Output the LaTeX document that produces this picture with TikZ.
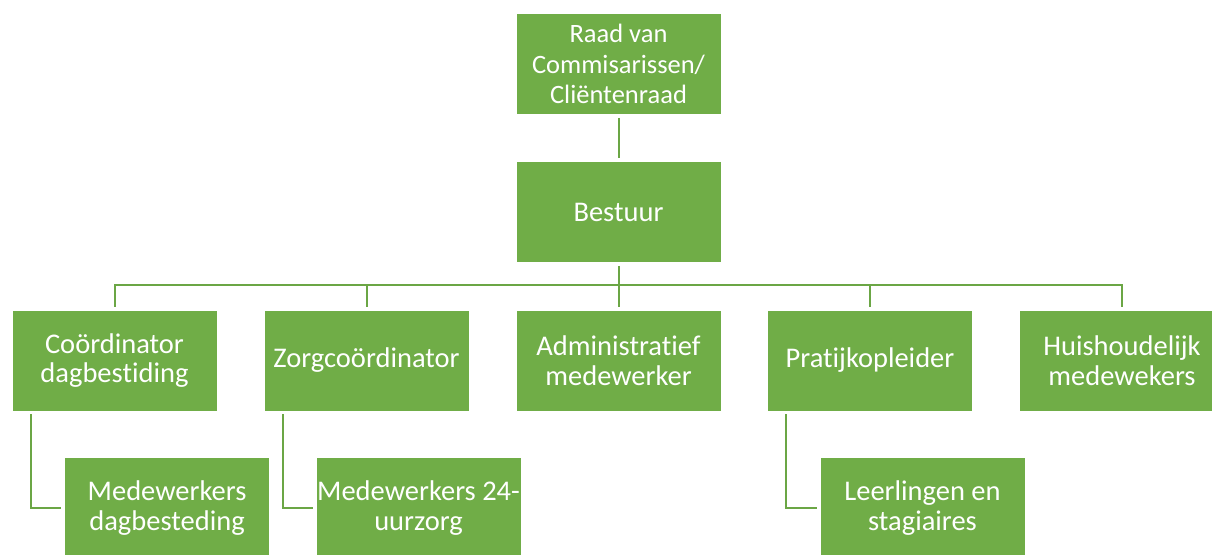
\documentclass[tikz,border=0pt]{standalone}
\usepackage{fontspec}
\setmainfont[Ligatures=CommonOff]{Carlito}
\definecolor{boxgreen}{HTML}{70AD47}
\definecolor{linegreen}{HTML}{6BA645}
\begin{document}
\begin{tikzpicture}[x=1pt,y=-1pt,
  orgbox/.style={rectangle, fill=boxgreen, draw=white, line width=0.6pt,
    minimum width=205pt, minimum height=101pt, inner sep=0pt,
    text=white, align=center, font=\fontsize{28.5}{29.5}\selectfont},
  conn/.style={draw=linegreen, line width=2pt}]
\useasboundingbox (0,0) rectangle (1212,554);
\node[orgbox, font=\fontsize{26.5}{30.5}\selectfont] (raad) at (618.5,64) {Raad van\\Commisarissen/\\Cliëntenraad};
\node[orgbox] (bestuur) at (618.5,212) {Bestuur};
\node[orgbox] (c1) at (114.5,360.5) {Coördinator\\dagbestiding};
\node[orgbox] (c2) at (366.5,360.5) {Zorgcoördinator};
\node[orgbox] (c3) at (618.5,360.5) {Administratief\\medewerker};
\node[orgbox] (c4) at (870,360.5) {Pratijkopleider};
\node[orgbox] (c5) at (1122,360.5) {Huishoudelijk\\medewekers};
\node[orgbox] (m1) at (167,508) {Medewerkers\\dagbesteding};
\node[orgbox] (m2) at (418.5,508) {Medewerkers 24-\\uurzorg};
\node[orgbox] (m4) at (922.5,508) {Leerlingen en\\stagiaires};
\draw[conn] ([yshift=-3pt]raad.south) -- ([yshift=3pt]bestuur.north);
\draw[conn] ([yshift=-3pt]bestuur.south) -- ([yshift=3pt]c3.north);
\draw[conn] ([yshift=3pt]c1.north) -- ([yshift=24.5pt]c1.north) -- ([yshift=24.5pt]c5.north) -- ([yshift=3pt]c5.north);
\draw[conn] ([yshift=3pt]c2.north) -- ([yshift=24.5pt]c2.north);
\draw[conn] ([yshift=3pt]c4.north) -- ([yshift=24.5pt]c4.north);
\draw[conn] ([xshift=19pt,yshift=-3pt]c1.south west) |- ([xshift=-3pt]m1.west);
\draw[conn] ([xshift=19pt,yshift=-3pt]c2.south west) |- ([xshift=-3pt]m2.west);
\draw[conn] ([xshift=19pt,yshift=-3pt]c4.south west) |- ([xshift=-3pt]m4.west);
\end{tikzpicture}
\end{document}
